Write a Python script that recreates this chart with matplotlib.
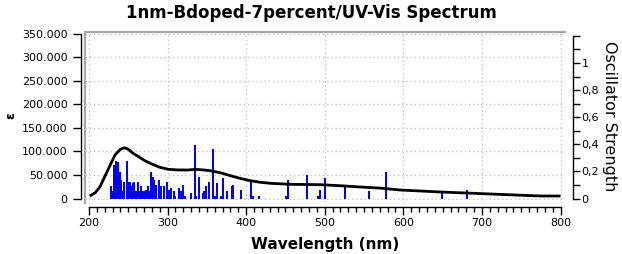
import numpy as np
import matplotlib
matplotlib.use("Agg")
import matplotlib.pyplot as plt
from matplotlib.ticker import FuncFormatter, FixedLocator, MultipleLocator

# ---------------------------------------------------------------------------
# Data
# ---------------------------------------------------------------------------

# convoluted spectrum, epsilon vs wavelength (nm)
curve_wl = [201, 208, 214, 220, 227, 233, 240, 245, 250, 256, 263, 271, 280,
            290, 301, 314, 327, 335, 346, 354, 367, 380, 392, 405, 418, 431,
            456, 494, 520, 545, 571, 596, 622, 647, 690, 732, 775, 800]
curve_eps = [5300, 12300, 25000, 46200, 71000, 92300, 104400, 107800, 104400,
             95900, 88700, 80200, 73200, 66200, 61900, 60500, 60500, 61900,
             60500, 59000, 54700, 48400, 42800, 37800, 34400, 32200, 30100,
             29300, 27100, 24400, 22000, 18000, 15900, 13800, 11000, 8100,
             5300, 5300]

# stick spectrum, oscillator strength vs wavelength (nm)
stick_wl = [227.4, 229.7, 232.2, 234.0, 235.7, 237.3, 239.1, 240.8, 242.4,
            245.0, 248.0, 250.1, 251.8, 253.9, 255.7, 257.7, 259.9, 262.0,
            264.1, 266.2, 268.4, 270.4, 272.6, 274.8, 276.8, 279.0, 281.1,
            283.2, 285.7, 288.8, 292.1, 295.2, 299.4, 301.5, 304.8, 308.3,
            309.9, 314.3, 316.8, 320.1, 322.7, 330.3, 334.6, 336.7, 340.1,
            345.2, 346.9, 349.0, 352.5, 357.3, 360.5, 362.7, 368.2, 370.3,
            375.4, 381.5, 383.5, 393.4, 406.4, 408.5, 416.9, 451.0, 453.1,
            477.3, 491.1, 493.4, 500.6, 525.5, 556.7, 578.1, 649.3, 681.1]
stick_f = [0.089, 0.059, 0.244, 0.280, 0.199, 0.273, 0.199, 0.133, 0.059,
           0.125, 0.280, 0.125, 0.125, 0.089, 0.118, 0.125, 0.059, 0.125,
           0.059, 0.089, 0.059, 0.059, 0.066, 0.089, 0.059, 0.199, 0.162,
           0.140, 0.103, 0.133, 0.089, 0.089, 0.125, 0.066, 0.074, 0.059,
           0.022, 0.074, 0.059, 0.096, 0.022, 0.037, 0.398, 0.022, 0.162,
           0.044, 0.052, 0.089, 0.125, 0.369, 0.022, 0.118, 0.022, 0.148,
           0.059, 0.090, 0.096, 0.066, 0.125, 0.022, 0.022, 0.022, 0.133,
           0.177, 0.022, 0.066, 0.148, 0.096, 0.059, 0.192, 0.052, 0.066]

eps_ticks = [0, 50000, 100000, 150000, 200000, 250000, 300000, 350000]
osc_ticks = [0, 0.1, 0.2, 0.3, 0.4, 0.5, 0.6, 0.7, 0.8, 0.9, 1.0, 1.1, 1.2]
osc_labels = ['0', '', '0,2', '', '0,4', '', '0,6', '', '0,8', '', '1', '', '']
wl_ticks = [200, 300, 400, 500, 600, 700, 800]

TITLE = "1nm-Bdoped-7percent/UV-Vis Spectrum"

# ---------------------------------------------------------------------------
# Figure
# ---------------------------------------------------------------------------

W, H = 622, 254
fig = plt.figure(figsize=(W / 100, H / 100), dpi=100)
ax = fig.add_axes([85 / W, (H - 203) / H, 480 / W, 171 / H])
ax2 = ax.twinx()

GRAY = '#a8a8a8'
PX = 0.72   # one pixel in points

# ---------------- limits ----------------
ax.set_xlim(194.9, 805.7)
ax.set_ylim(-9545, 353200)
ax2.set_ylim(-0.0332, 1.2288)

# ---------------- grid ----------------
ax.set_xticks(wl_ticks)
ax.set_yticks(eps_ticks)
ax.grid(True, color='#c4c4c4', linestyle=(0, (1, 2)), linewidth=1.0)
ax.set_axisbelow(True)

# ---------------- marks ----------------
ax2.bar(stick_wl, stick_f, width=2.6, color='#0000ff', linewidth=0,
        zorder=2)
ax2.plot(curve_wl, curve_eps, color='black', lw=2.0, zorder=3,
         solid_capstyle='butt', transform=ax.transData)

# ---------------- spines ----------------
for s in ['right']:
    ax.spines[s].set_visible(False)
for s in ['top', 'left', 'bottom']:
    ax2.spines[s].set_visible(False)

ax.spines['top'].set_color(GRAY)
ax.spines['top'].set_linewidth(1.6)
ax.plot([0, 0], [0, 1], transform=ax.transAxes, color=GRAY, lw=1.6,
        clip_on=False, zorder=5)

ax.spines['left'].set_position(('outward', 4 * PX))
ax.spines['left'].set_bounds(0, 350000)
ax.spines['bottom'].set_position(('outward', 4 * PX))
ax.spines['bottom'].set_bounds(200, 800)
ax2.spines['right'].set_position(('outward', 8 * PX))
ax2.spines['right'].set_bounds(0, 1.2)
for sp in [ax.spines['left'], ax.spines['bottom'], ax2.spines['right']]:
    sp.set_linewidth(1.0)
    sp.set_color('black')

# ---------------- ticks ----------------
ax.xaxis.set_minor_locator(MultipleLocator(10))
ax.tick_params(axis='x', which='major', direction='out', length=8 * PX,
               width=1, pad=2, labelsize=8)
ax.tick_params(axis='x', which='minor', direction='out', length=5 * PX,
               width=1)
ax.tick_params(axis='y', which='major', direction='out', length=8 * PX,
               width=1, pad=4, labelsize=8)
ax.yaxis.set_major_formatter(
    FuncFormatter(lambda v, p: f"{v:,.0f}".replace(',', '.')))

ax2.yaxis.set_major_locator(FixedLocator(osc_ticks))
ax2.set_yticklabels(osc_labels)
ax2.tick_params(axis='y', which='major', direction='out', length=7 * PX,
                width=1, pad=1, labelsize=8)

# ---------------- texts ----------------
fig.text(311 / W, 1 - 13 / H, TITLE, ha='center', va='center',
         fontsize=12, fontweight='bold')
fig.text(325 / W, 1 - 244 / H, 'Wavelength (nm)', ha='center', va='center',
         fontsize=11, fontweight='bold')
fig.text(11 / W, 1 - 116 / H, 'ε', ha='center', va='center', rotation=90,
         fontsize=9, fontweight='bold')
fig.text(609 / W, 1 - 116 / H, 'Oscillator Strength', ha='center',
         va='center', rotation=270, fontsize=11.5)

fig.savefig('out.png', dpi=100)
